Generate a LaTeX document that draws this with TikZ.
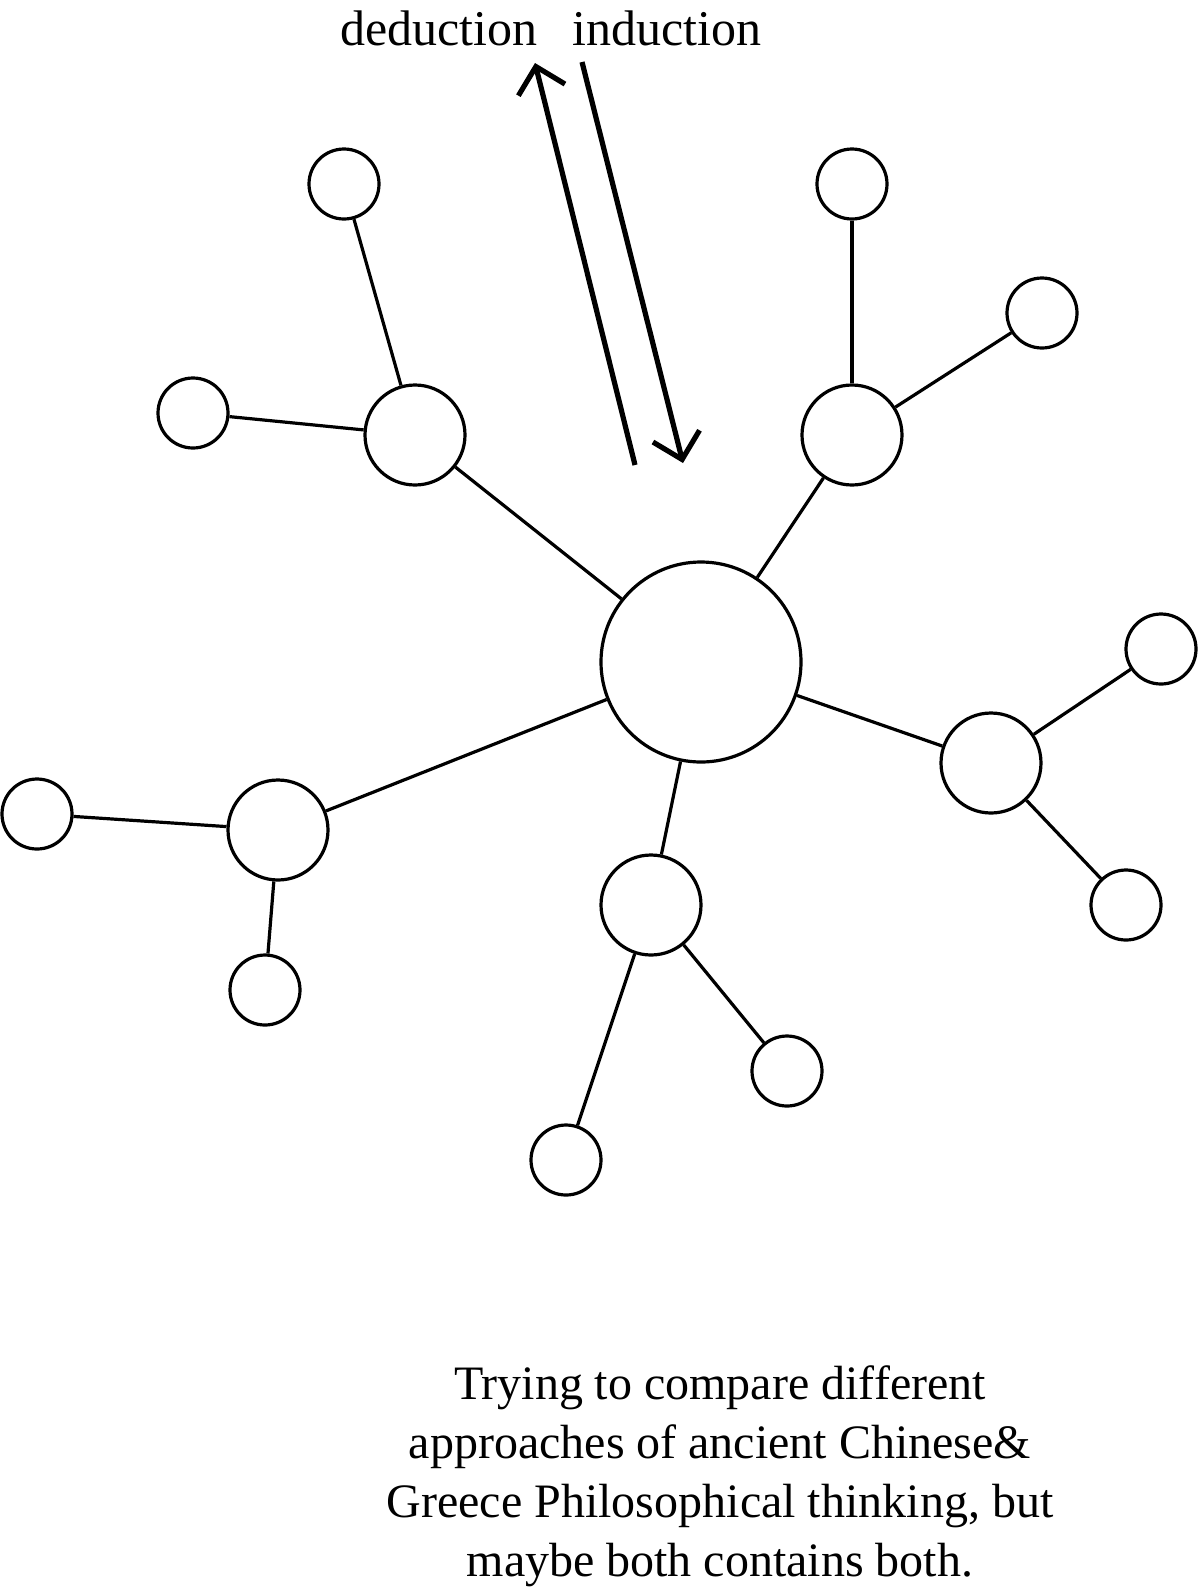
\documentclass[tikz,border=0pt]{standalone}
\usepackage{fontspec}
\setmainfont{Liberation Serif}
\usetikzlibrary{arrows.meta, positioning}

\begin{document}
\begin{tikzpicture}[
    x=0.5pt, y=-0.5pt,
    hubnode/.style={draw, circle, line width=1.6pt, inner sep=0pt, minimum size=100pt},
    midnode/.style={draw, circle, line width=1.6pt, inner sep=0pt, minimum size=50pt},
    leafnode/.style={draw, circle, line width=1.6pt, inner sep=0pt, minimum size=35pt},
    link/.style={line width=1.6pt},
    flow/.style={line width=2.6pt, -{Straight Barb[length=12pt, width=24pt]}},
    tag/.style={font=\fontsize{25pt}{30pt}\selectfont, inner sep=0pt, anchor=base west}
]
    \useasboundingbox (0,0) rectangle (1199,1591);

    % Hub
    \node[hubnode] (hub) at (701, 662) {};

    % Upper left
    \node[midnode] (ul) at (415, 435) {};
    \node[leafnode] (ulTop) at (344, 184) {};
    \node[leafnode] (ulLeft) at (193, 413) {};

    % Upper right
    \node[midnode] (ur) at (852, 435) {};
    \node[leafnode] (urTop) at (852, 184) {};
    \node[leafnode] (urRight) at (1042, 313) {};

    % Right
    \node[midnode] (rt) at (991, 763) {};
    \node[leafnode] (rtUp) at (1161, 649) {};
    \node[leafnode] (rtDown) at (1126, 905) {};

    % Bottom
    \node[midnode] (bt) at (651, 905) {};
    \node[leafnode] (btRight) at (787, 1071) {};
    \node[leafnode] (btLeft) at (566, 1160) {};

    % Left
    \node[midnode] (lt) at (278, 830) {};
    \node[leafnode] (ltLeft) at (37, 814) {};
    \node[leafnode] (ltDown) at (265, 990) {};

    % Links
    \draw[link] (hub) -- (ul);
    \draw[link] (hub) -- (ur);
    \draw[link] (hub) -- (rt);
    \draw[link] (hub) -- (bt);
    \draw[link] (hub) -- (lt);
    \draw[link] (ul) -- (ulTop);
    \draw[link] (ul) -- (ulLeft);
    \draw[link] (ur) -- (urTop);
    \draw[link] (ur) -- (urRight);
    \draw[link] (rt) -- (rtUp);
    \draw[link] (rt) -- (rtDown);
    \draw[link] (bt) -- (btRight);
    \draw[link] (bt) -- (btLeft);
    \draw[link] (lt) -- (ltLeft);
    \draw[link] (lt) -- (ltDown);

    % Labels
    \node[tag] (deduction) at (340, 45) {deduction};
    \node[tag] (induction) at (572, 45) {induction};

    % Reasoning arrows
    \coordinate (dedTail) at (635, 465);
    \coordinate (dedTip) at (535, 63);
    \coordinate (indTail) at (582, 62);
    \coordinate (indTip) at (683, 463);
    \draw[flow] (dedTail) -- (dedTip);
    \draw[flow] (indTail) -- (indTip);

    % Note
    \node[font=\fontsize{24pt}{29.5pt}\selectfont, align=center, inner sep=0pt] (note) at (720, 1476)
        {Trying to compare different\\approaches of ancient Chinese\&\\Greece Philosophical thinking, but\\maybe both contains both.};
\end{tikzpicture}
\end{document}
